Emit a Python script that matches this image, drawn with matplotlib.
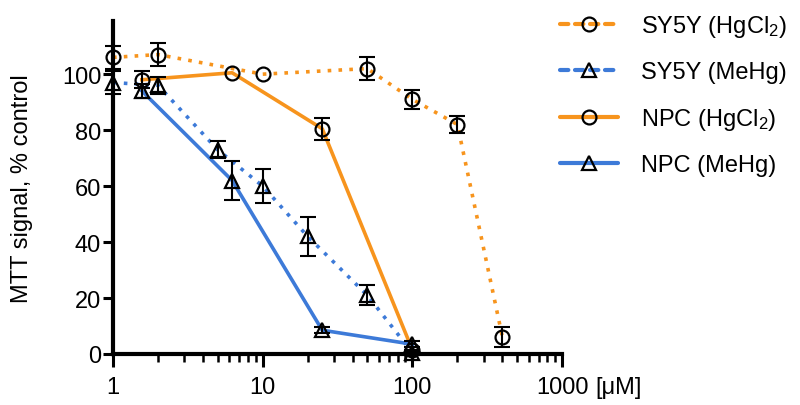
import numpy as np
import matplotlib
matplotlib.use("Agg")
import matplotlib.pyplot as plt
from matplotlib.lines import Line2D
from matplotlib.ticker import LogLocator, NullFormatter, FixedLocator

plt.rcParams['font.family'] = ['Liberation Sans', 'DejaVu Sans']
plt.rcParams['mathtext.default'] = 'regular'

# data (concentration in uM, MTT signal % control, SEM)
# nan = no visible error bar
sy_hg_x = [1, 2, 10, 50, 100, 200, 400]
sy_hg_y = [106, 107, 100, 102, 91, 82, 6]
sy_hg_e = [4, 4, np.nan, 4, 3.5, 3, 3.5]

sy_me_x = [1, 2, 5, 10, 20, 50, 100]
sy_me_y = [97, 96, 73, 60, 42, 21, 0.5]
sy_me_e = [4, 3, 3, 6, 7, 3.5, 1]

npc_hg_x = [1.56, 6.25, 25, 100]
npc_hg_y = [98, 100.5, 80.5, 1.5]
npc_hg_e = [3, np.nan, 4, 1]

npc_me_x = [1.56, 6.25, 25, 100]
npc_me_y = [94, 62, 8.5, 3.5]
npc_me_e = [2.5, 7, 1, 1]

labels = ['SY5Y (HgCl$_2$)', 'SY5Y (MeHg)', 'NPC (HgCl$_2$)', 'NPC (MeHg)']

orange = '#F7941D'
blue = '#3D7AD8'
dotted = (0, (1, 2))

fig = plt.figure(figsize=(8, 4.06), dpi=100)
ax = fig.add_axes([113/800, 51/406, 449/800, 333/406])

series = [
    (sy_hg_x, sy_hg_y, sy_hg_e, orange, dotted, 'o'),
    (sy_me_x, sy_me_y, sy_me_e, blue, dotted, '^'),
    (npc_hg_x, npc_hg_y, npc_hg_e, orange, '-', 'o'),
    (npc_me_x, npc_me_y, npc_me_e, blue, '-', '^'),
]

for x, y, e, c, ls, m in series:
    ax.plot(x, y, color=c, lw=2.6, linestyle=ls, dash_capstyle='butt',
            zorder=2, clip_on=False)
for x, y, e, c, ls, m in series:
    ax.errorbar(x, y, yerr=e, fmt='none', ecolor='black', elinewidth=1.5,
                capsize=6, capthick=1.5, zorder=3, clip_on=False)
    ax.plot(x, y, linestyle='none', marker=m, ms=10, mfc='none', mec='black',
            mew=1.6, zorder=4, clip_on=False)

ax.set_xscale('log')
ax.set_xlim(1, 1000)
ax.set_ylim(0, 119)
ax.set_yticks([0, 20, 40, 60, 80, 100])
ax.xaxis.set_major_locator(FixedLocator([1, 10, 100, 1000]))
ax.set_xticklabels(['1', '10', '100', '1000'])
ax.xaxis.set_minor_locator(LogLocator(base=10, subs=np.arange(2, 10)))
ax.xaxis.set_minor_formatter(NullFormatter())

for s in ['top', 'right']:
    ax.spines[s].set_visible(False)
for s in ['left', 'bottom']:
    ax.spines[s].set_linewidth(3)

ax.tick_params(axis='y', which='major', length=7, width=2.2, pad=1.5, labelsize=17)
ax.tick_params(axis='x', which='major', length=9.5, width=2.2, pad=6, labelsize=17)
ax.tick_params(axis='x', which='minor', length=5.5, width=1.8)

ax.set_ylabel('MTT signal, % control', fontsize=17)
ax.yaxis.set_label_coords(-0.178, 0.5)

ax.annotate('[\u03bcM]', xy=(1.0, 0), xycoords='axes fraction',
            xytext=(33, -33), textcoords='offset pixels', ha='left', va='center',
            fontsize=17)

handles = []
for x, y, e, c, ls, m in series:
    hls = (0, (2, 1.6)) if ls == dotted else '-'
    handles.append(Line2D([], [], color=c, lw=3, linestyle=hls,
                          dash_capstyle='round', solid_capstyle='round',
                          marker=m, ms=10, mfc='none', mec='black', mew=1.6))
fig.legend(handles, labels, loc='upper left', bbox_to_anchor=(560/800, 1 - 14/406),
           frameon=False, fontsize=17, handlelength=2.45, handletextpad=1.0,
           labelspacing=0.95, borderpad=0, borderaxespad=0)

fig.savefig('out.png', dpi=100)
